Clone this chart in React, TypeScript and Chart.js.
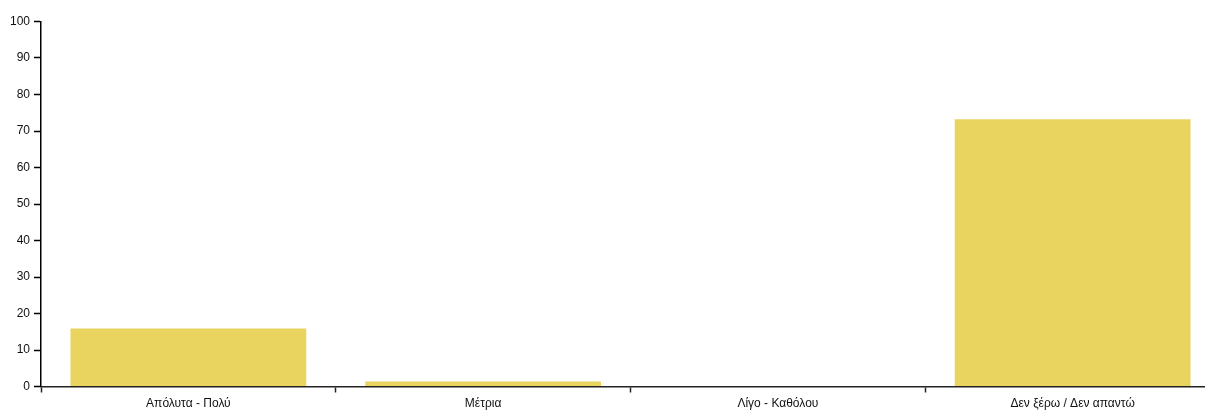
import React, { useEffect, useRef } from "react";
import { Chart, registerables } from "chart.js";

Chart.register(...registerables);

const categories: string[] = ["Απόλυτα - Πολύ", "Μέτρια", "Λίγο - Καθόλου", "Δεν ξέρω / Δεν απαντώ"];
const values: number[] = [15.9, 1.4, 0, 73.2];
const yTicks = { min: 0, max: 100, step: 10 };

export default function App() {
  const ref = useRef<HTMLCanvasElement | null>(null);

  useEffect(() => {
    if (!ref.current) return;
    const chart = new Chart(ref.current, {
      type: "bar",
      data: {
        labels: categories,
        datasets: [
          {
            data: values,
            backgroundColor: "#E8D45F",
            borderWidth: 0,
            barPercentage: 1,
            categoryPercentage: 0.8,
          },
        ],
      },
      options: {
        responsive: false,
        animation: false,
        layout: { padding: { left: 0, top: 21.5, right: 10, bottom: 0 } },
        plugins: { legend: { display: false }, tooltip: { enabled: false } },
        scales: {
          x: {
            afterFit: (s: any) => {
              s.height = 24.5;
            },
            border: { display: true, color: "#222", width: 1.5 },
            grid: {
              offset: true,
              drawOnChartArea: false,
              drawTicks: true,
              tickLength: 6,
              tickColor: "#222",
              tickWidth: 1.5,
            },
            ticks: {
              color: "#111",
              font: { family: "Liberation Sans, Arial, sans-serif", size: 12 },
              padding: 4,
              maxRotation: 0,
            },
          },
          y: {
            min: yTicks.min,
            max: yTicks.max,
            afterFit: (s: any) => {
              s.width = 41;
            },
            border: { display: true, color: "#000", width: 1.5 },
            grid: {
              drawOnChartArea: false,
              drawTicks: true,
              tickLength: 7,
              tickColor: "#000",
              tickWidth: 1.5,
            },
            ticks: {
              stepSize: yTicks.step,
              color: "#111",
              font: { family: "Liberation Sans, Arial, sans-serif", size: 12 },
              padding: 4,
            },
          },
        },
      },
    });
    return () => chart.destroy();
  }, []);

  return (
    <div
      style={{
        position: "fixed",
        left: 0,
        top: 0,
        width: 1205,
        height: 411,
        overflow: "hidden",
        background: "#fff",
      }}
    >
      <canvas ref={ref} width={1230} height={411} style={{ display: "block" }} />
    </div>
  );
}
